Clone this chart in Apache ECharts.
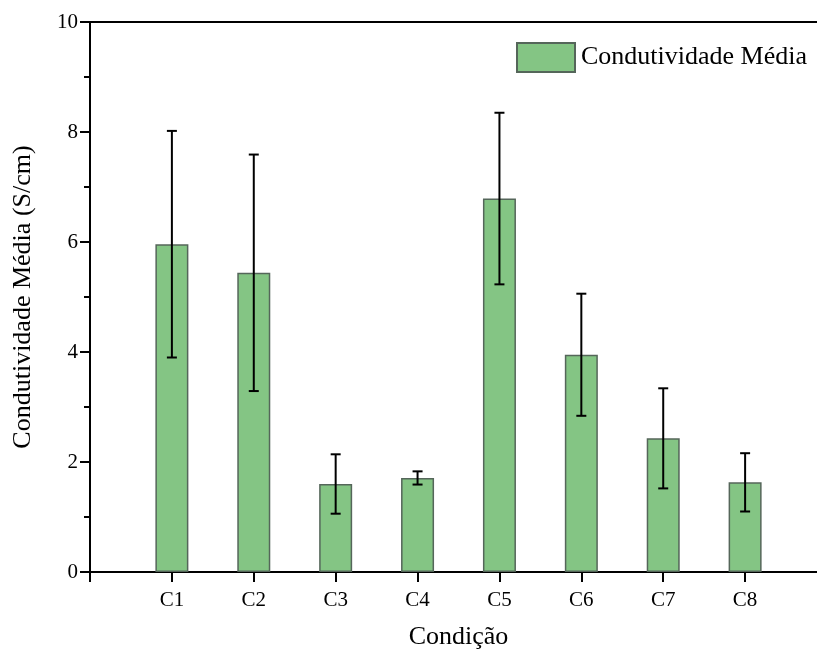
<!DOCTYPE html>
<html>
<head>
<meta charset="utf-8">
<script src="https://cdn.jsdelivr.net/npm/echarts@6/dist/echarts.min.js"></script>
<style>
  html, body { margin: 0; padding: 0; background: #fff; overflow: hidden; }
  /* o grafico original continua alem da borda direita */
  #chart { width: 830px; height: 655px; }
</style>
</head>
<body>
<div id="chart"></div>
<script>
// dados
var categories = ['C1', 'C2', 'C3', 'C4', 'C5', 'C6', 'C7', 'C8'];
var means = [5.96, 5.44, 1.60, 1.71, 6.79, 3.95, 2.43, 1.63];
var errors = [2.06, 2.15, 0.54, 0.12, 1.56, 1.11, 0.91, 0.53];
var yTicks = [0, 2, 4, 6, 8, 10];

var serif = 'Liberation Serif, Times New Roman, serif';

// eixo com posicoes 0..9 (C1 em 1)
var axisCats = [''].concat(categories).concat(['']);

var barData = [];
var errData = [];
for (var i = 0; i < categories.length; i++) {
    barData.push([categories[i], means[i]]);
    errData.push([categories[i], means[i] - errors[i], means[i] + errors[i]]);
}

var chart = echarts.init(document.getElementById('chart'));

chart.setOption({
    animation: false,
    textStyle: { fontFamily: serif, color: '#000' },
    grid: {
        left: 90, top: 22, bottom: 82, right: 2,
        show: true, borderColor: '#000', borderWidth: 2
    },
    legend: {
        left: 511, top: 37,
        itemWidth: 58, itemHeight: 29, itemGap: 10,
        icon: 'rect',
        data: ['Condutividade Média'],
        textStyle: { fontFamily: serif, fontSize: 26, color: '#000', padding: [0, 0, 0, 1] }
    },
    xAxis: {
        type: 'category',
        data: axisCats,
        boundaryGap: false,
        name: 'Condição',
        nameLocation: 'middle',
        nameGap: 52,
        nameTextStyle: { fontFamily: serif, fontSize: 26, color: '#000' },
        axisLine: { lineStyle: { color: '#000', width: 2 } },
        axisTick: { length: 10, lineStyle: { color: '#000', width: 2 }, interval: 0 },
        axisLabel: { fontFamily: serif, fontSize: 21, color: '#000', margin: 18, interval: 0 },
        splitLine: { show: false }
    },
    yAxis: {
        type: 'value',
        min: 0, max: 10, interval: 2,
        name: 'Condutividade Média (S/cm)',
        nameLocation: 'middle',
        nameGap: 54,
        nameTextStyle: { fontFamily: serif, fontSize: 26, color: '#000' },
        axisLine: { show: true, lineStyle: { color: '#000', width: 2 } },
        axisTick: { show: true, length: 10, lineStyle: { color: '#000', width: 2 } },
        minorTick: { show: true, splitNumber: 2, length: 6, lineStyle: { color: '#000', width: 2 } },
        axisLabel: {
            fontFamily: serif, fontSize: 21, color: '#000', margin: 12,
            formatter: function (v) { return yTicks.indexOf(v) >= 0 ? String(v) : ''; }
        },
        splitLine: { show: false }
    },
    series: [
        {
            name: 'Condutividade Média',
            type: 'bar',
            barWidth: 33,
            data: barData,
            itemStyle: { color: '#84c584', borderColor: '#55665a', borderWidth: 1.5 }
        },
        {
            name: 'erro',
            type: 'custom',
            data: errData,
            encode: { x: 0, y: [1, 2] },
            z: 5,
            renderItem: function (params, api) {
                var x = api.value(0);
                var lo = api.coord([x, api.value(1)]);
                var hi = api.coord([x, api.value(2)]);
                var w = 5;
                var st = { stroke: '#000', lineWidth: 2 };
                return {
                    type: 'group',
                    children: [
                        { type: 'line', shape: { x1: hi[0], y1: hi[1], x2: lo[0], y2: lo[1] }, style: st },
                        { type: 'line', shape: { x1: hi[0] - w, y1: hi[1], x2: hi[0] + w, y2: hi[1] }, style: st },
                        { type: 'line', shape: { x1: lo[0] - w, y1: lo[1], x2: lo[0] + w, y2: lo[1] }, style: st }
                    ]
                };
            }
        }
    ]
});
</script>
</body>
</html>
